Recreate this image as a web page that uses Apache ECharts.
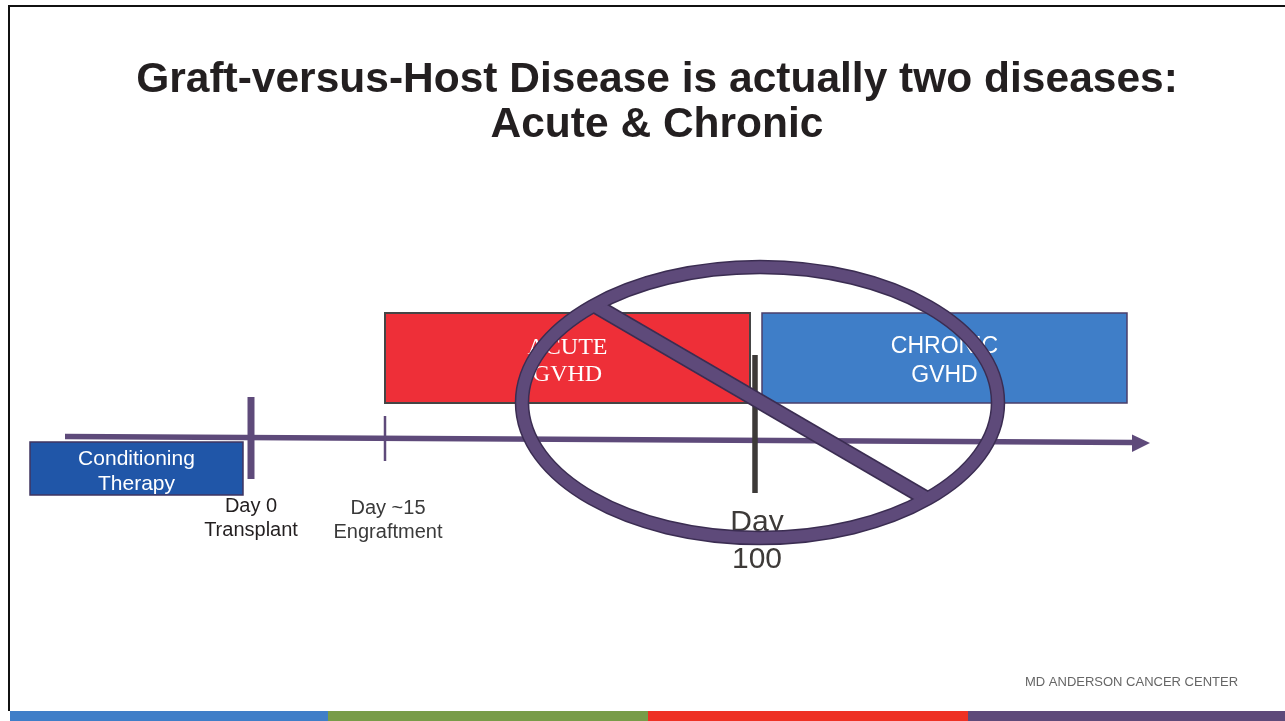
<!DOCTYPE html>
<html><head><meta charset="utf-8">
<script src="https://cdn.jsdelivr.net/npm/echarts@6/dist/echarts.min.js"></script>
<style>html,body{margin:0;padding:0;background:#fff;overflow:hidden}#c{width:1285px;height:721px}</style>
</head><body><div id="c"></div>
<script>
// ---- content / values ----
const titleLines = ['Graft-versus-Host Disease is actually two diseases:', 'Acute & Chronic'];
const phaseLabels = ['Conditioning\nTherapy', 'ACUTE\nGVHD', 'CHRONIC\nGVHD'];
const phaseStart = [30, 385, 762];
const phaseEnd = [243, 750, 1127];
const milestoneLabels = ['Day 0\nTransplant', 'Day ~15\nEngraftment', 'Day\n100'];
const milestoneX = [251, 385, 755];
const timelineRange = [65, 1150];
const noSymbolAt = [760, 402.5];
const footerText = 'MD ANDERSON CANCER CENTER';
const footerColors = ['#3f7ec8', '#789c48', '#ee3124', '#5e4a7a'];

// ---- styles / layout ----
const SANS = "'Liberation Sans', Arial, sans-serif";
const SERIF = "'Liberation Serif', 'Times New Roman', serif";
const PURPLE = '#5e4a7a', PURPLE_DARK = '#3b2d52';
const phaseStyle = [
  {top: 442, bottom: 495, fill: '#2056a8', stroke: '#3f3560', lw: 1.5, font: SANS, size: 21, lh: 25, ty: 471.5},
  {top: 313, bottom: 403, fill: '#ee2f38', stroke: '#454545', lw: 2, font: SERIF, size: 24, lh: 27, ty: 361.5},
  {top: 313, bottom: 403, fill: '#3f7ec8', stroke: '#4b3f6b', lw: 1.5, font: SANS, size: 23, lh: 29, ty: 361}
];
const milestoneStyle = [
  {y0: 397, y1: 479, w: 7, color: PURPLE, size: 20, lh: 24, ty: 518.5, dx: 0, tc: '#231f20'},
  {y0: 416, y1: 461, w: 2.5, color: PURPLE, size: 20, lh: 24, ty: 520.5, dx: 3, tc: '#3a3a3a'},
  {y0: 355, y1: 493, w: 5.5, color: '#3d3a38', size: 30, lh: 37, ty: 541, dx: 2, tc: '#3d3a38'}
];

const chart = echarts.init(document.getElementById('c'), null, {renderer: 'canvas'});

const footerBars = footerColors.map((c, i) => ({
  type: 'rect', left: i === 0 ? 10 : 8 + i * 320, top: 711,
  shape: {width: i === 0 ? 318 : 320 + (i === 3 ? 10 : 0), height: 10},
  style: {fill: c}, z: 1
}));

chart.setOption({
  animation: false,
  backgroundColor: '#fff',
  title: [
    {text: titleLines.join('\n'), left: 652, top: 53, textAlign: 'center',
     textStyle: {fontFamily: SANS, fontSize: 42.5, fontWeight: 'bold', lineHeight: 45, color: '#231f20'}},
    {text: footerText, left: 1020, top: 671,
     textStyle: {fontFamily: SANS, fontSize: 13, fontWeight: 'normal', color: '#666'}}
  ],
  grid: {left: 0, right: 0, top: 0, bottom: 0},
  xAxis: {type: 'value', min: 0, max: 1285, show: false},
  yAxis: {type: 'value', min: 0, max: 721, inverse: true, show: false},
  graphic: [
    {type: 'rect', left: 8, top: 5, shape: {width: 1277, height: 2}, style: {fill: '#111'}},
    {type: 'rect', left: 8, top: 5, shape: {width: 2, height: 706}, style: {fill: '#111'}}
  ].concat(footerBars),
  series: [
    {
      type: 'custom', name: 'phases', z: 2,
      data: phaseStart.map((s, i) => [s, phaseEnd[i], i]),
      renderItem: function (params, api) {
        const i = api.value(2), st = phaseStyle[i];
        const p0 = api.coord([api.value(0), st.top]);
        const p1 = api.coord([api.value(1), st.bottom]);
        const cx = (p0[0] + p1[0]) / 2;
        return {type: 'group', children: [
          {type: 'rect', shape: {x: p0[0], y: p0[1], width: p1[0] - p0[0], height: p1[1] - p0[1]},
           style: {fill: st.fill, stroke: st.stroke, lineWidth: st.lw}},
          {type: 'text', style: {text: phaseLabels[i], x: cx, y: api.coord([0, st.ty])[1],
            align: 'center', verticalAlign: 'middle', fill: '#fff',
            fontFamily: st.font, fontSize: st.size, lineHeight: st.lh}}
        ]};
      }
    },
    {
      type: 'custom', name: 'timeline', z: 3,
      data: [timelineRange],
      renderItem: function (params, api) {
        const x0 = api.value(0), x1 = api.value(1);
        const a = api.coord([x0, 436.5]);
        const b = api.coord([x1 - 17, 442.5]);
        const tip = api.coord([x1, 443]);
        const up = api.coord([x1 - 18, 434.5]);
        const dn = api.coord([x1 - 18, 452]);
        return {type: 'group', children: [
          {type: 'line', shape: {x1: a[0], y1: a[1], x2: b[0], y2: b[1]},
           style: {stroke: PURPLE, lineWidth: 5.5}},
          {type: 'polygon', shape: {points: [up, tip, dn]}, style: {fill: PURPLE}}
        ]};
      }
    },
    {
      type: 'custom', name: 'milestones', z: 4,
      data: milestoneX.map((x, i) => [x, i]),
      renderItem: function (params, api) {
        const i = api.value(1), st = milestoneStyle[i], x = api.value(0);
        const a = api.coord([x, st.y0]), b = api.coord([x, st.y1]);
        const t = api.coord([x + st.dx, st.ty]);
        return {type: 'group', children: [
          {type: 'line', shape: {x1: a[0], y1: a[1], x2: b[0], y2: b[1]},
           style: {stroke: st.color, lineWidth: st.w}},
          {type: 'text', style: {text: milestoneLabels[i], x: t[0], y: t[1],
            align: 'center', verticalAlign: 'middle', fill: st.tc,
            fontFamily: SANS, fontSize: st.size, lineHeight: st.lh}}
        ]};
      }
    },
    {
      type: 'custom', name: 'no', z: 10,
      data: [noSymbolAt],
      renderItem: function (params, api) {
        const cx = api.value(0), cy = api.value(1);
        const c = api.coord([cx, cy]);
        const rx = api.coord([cx + 238, cy])[0] - c[0];
        const ry = api.coord([cx, cy + 135.5])[1] - c[1];
        const s0 = api.coord([cx - 165, cy - 97]);
        const s1 = api.coord([cx + 167, cy + 96.5]);
        const slash = (w, col) => ({type: 'line', shape: {x1: s0[0], y1: s0[1], x2: s1[0], y2: s1[1]},
          style: {stroke: col, lineWidth: w}});
        const ell = (w, col) => ({type: 'ellipse', shape: {cx: c[0], cy: c[1], rx: rx, ry: ry},
          style: {fill: null, stroke: col, lineWidth: w}});
        return {type: 'group', children: [
          slash(16, PURPLE_DARK), ell(14.5, PURPLE_DARK), slash(13, PURPLE), ell(11.5, PURPLE)
        ]};
      }
    }
  ]
});
</script>
</body></html>
